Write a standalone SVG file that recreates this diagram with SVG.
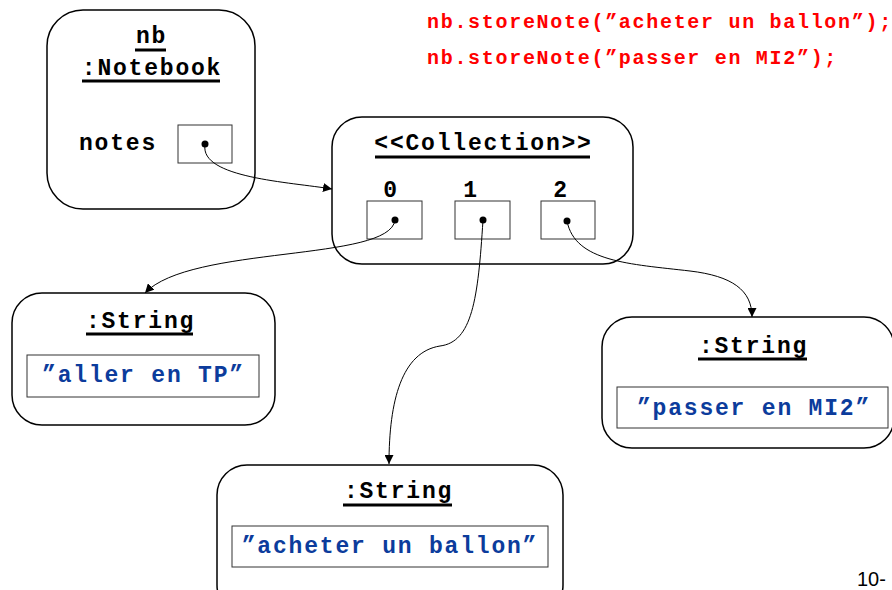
<svg xmlns="http://www.w3.org/2000/svg" width="892" height="590" viewBox="0 0 892 590">
<defs>
<marker id="arr" viewBox="0 0 10 10" refX="10" refY="5" markerWidth="9" markerHeight="9" markerUnits="userSpaceOnUse" orient="auto">
<path d="M0,0 L10,5 L0,10 z" fill="#000"/>
</marker>
<style>
.obj{fill:#fff;stroke:#000;stroke-width:1.5}
.slot{fill:#fff;stroke:#333;stroke-width:1}
.val{fill:#fff;stroke:#333;stroke-width:1}
.t{font-family:"Liberation Mono","Courier New",monospace;font-weight:bold;font-size:23px;letter-spacing:1.8px;fill:#000}
.b{font-family:"Liberation Mono","Courier New",monospace;font-weight:bold;font-size:23px;letter-spacing:1.8px;fill:#0c3c9c}
.r{font-family:"Liberation Mono","Courier New",monospace;font-weight:bold;font-size:20px;letter-spacing:1.7px;fill:#ff0000}
.u{stroke:#000;stroke-width:3}
.dot{fill:#000}
.c{fill:none;stroke:#000;stroke-width:1;marker-end:url(#arr)}
</style>
</defs>
<rect width="892" height="590" fill="#fff"/>

<g id="code">
<text class="r" x="427" y="28">nb.storeNote(”acheter un ballon”);</text>
<text class="r" x="427" y="64">nb.storeNote(”passer en MI2”);</text>
</g>

<g id="notebook">
<rect class="obj" x="47" y="10" width="208" height="199" rx="36"/>
<text class="t" x="151.5" y="43" text-anchor="middle">nb</text>
<line class="u" x1="135" y1="50" x2="166" y2="50"/>
<text class="t" x="152" y="75" text-anchor="middle">:Notebook</text>
<line class="u" x1="82" y1="81" x2="220" y2="81"/>
<text class="t" x="79" y="150">notes</text>
<rect class="slot" x="178" y="125" width="54" height="38"/>
<circle class="dot" cx="205" cy="144" r="3.5"/>
</g>

<g id="collection">
<rect class="obj" x="332" y="117" width="301" height="147" rx="30"/>
<text class="t" x="483.5" y="150" text-anchor="middle">&lt;&lt;Collection&gt;&gt;</text>
<line class="u" x1="375" y1="157" x2="590" y2="157"/>
<text class="t" x="391" y="197" text-anchor="middle">0</text>
<text class="t" x="471" y="197" text-anchor="middle">1</text>
<text class="t" x="561" y="197" text-anchor="middle">2</text>
<rect class="slot" x="367" y="201" width="55" height="38"/>
<rect class="slot" x="455" y="201" width="55" height="38"/>
<rect class="slot" x="541" y="201" width="54" height="38"/>
<circle class="dot" cx="395" cy="220" r="3.5"/>
<circle class="dot" cx="483" cy="220" r="3.5"/>
<circle class="dot" cx="567" cy="221" r="3.5"/>
</g>

<g id="string1">
<rect class="obj" x="12" y="293" width="263" height="132" rx="30"/>
<text class="t" x="140.5" y="328" text-anchor="middle">:String</text>
<line class="u" x1="86" y1="334" x2="193" y2="334"/>
<rect class="val" x="27" y="355" width="232" height="42"/>
<text class="b" x="143.5" y="382" text-anchor="middle">”aller en TP”</text>
</g>

<g id="string2">
<rect class="obj" x="602" y="317" width="292" height="131" rx="30"/>
<text class="t" x="753.5" y="353" text-anchor="middle">:String</text>
<line class="u" x1="698" y1="359" x2="807" y2="359"/>
<rect class="val" x="617" y="387" width="271" height="41"/>
<text class="b" x="754" y="415" text-anchor="middle">”passer en MI2”</text>
</g>

<g id="string3">
<rect class="obj" x="217" y="465" width="346" height="150" rx="30"/>
<text class="t" x="398.5" y="498" text-anchor="middle">:String</text>
<line class="u" x1="343" y1="505" x2="452" y2="505"/>
<rect class="val" x="232" y="526" width="316" height="41"/>
<text class="b" x="390" y="553" text-anchor="middle">”acheter un ballon”</text>
</g>

<g id="connectors">
<path class="c" d="M205,145 C200,178 290,182 332,189"/>
<path class="c" d="M395,220 C390,262 190,245 145,293"/>
<path class="c" d="M483,220 C478,300 472,342 440,346 C402,352 389,400 389,464"/>
<path class="c" d="M567,221 C575,262 630,264 690,271 C732,276 752,290 752,317"/>
</g>

<text x="857" y="586" font-family="'Liberation Sans',Arial,sans-serif" font-size="20" fill="#000">10-</text>
</svg>
